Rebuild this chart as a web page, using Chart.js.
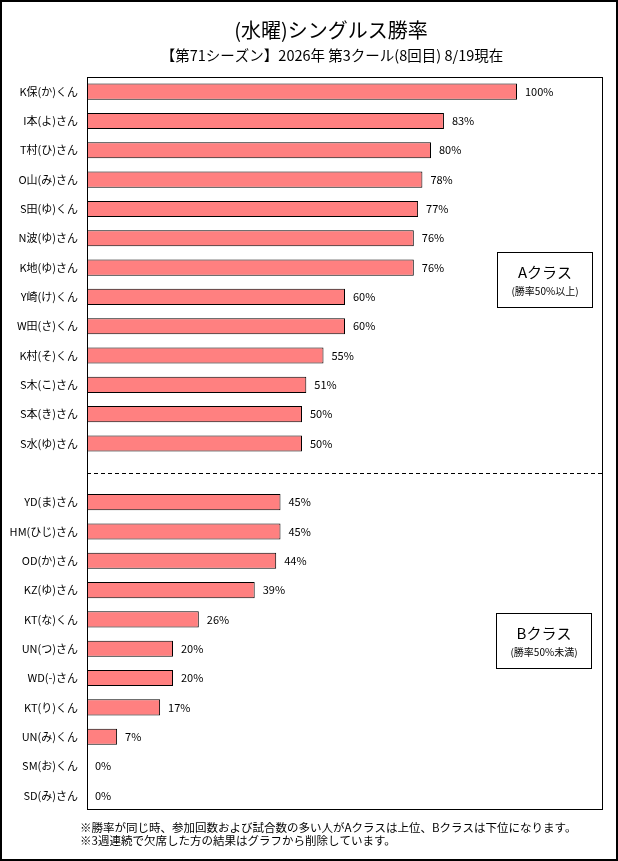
<!DOCTYPE html>
<html>
<head>
<meta charset="utf-8">
<script src="https://cdn.jsdelivr.net/npm/chart.js@4/dist/chart.umd.min.js"></script>
<style>
  body { margin: 0; background: #fff; }
  #wrap { width: 618px; height: 861px; }
</style>
</head>
<body>
<div id="wrap"><canvas id="myChart" width="618" height="861"></canvas></div>
<script>
"use strict";
const ctx = document.getElementById('myChart');

const jpFont = '"Noto Sans CJK JP", "Noto Sans", sans-serif';
const barColor = '#FF8080';

// Aクラス (勝率50%以上)
const aNames = ['K保(か)くん', 'I本(よ)さん', 'T村(ひ)さん', 'O山(み)さん', 'S田(ゆ)くん', 'N波(ゆ)さん', 'K地(ゆ)さん',
  'Y崎(け)くん', 'W田(さ)くん', 'K村(そ)くん', 'S木(こ)さん', 'S本(き)さん', 'S水(ゆ)さん'];
const aRates = [100, 83, 80, 78, 77, 76, 76, 60, 60, 55, 51, 50, 50];

// Bクラス (勝率50%未満)
const bNames = ['YD(ま)さん', 'HM(ひじ)さん', 'OD(か)さん', 'KZ(ゆ)さん', 'KT(な)くん', 'UN(つ)さん', 'WD(-)さん',
  'KT(り)くん', 'UN(み)くん', 'SM(お)くん', 'SD(み)さん'];
const bRates = [45, 45, 44, 39, 26, 20, 20, 17, 7, 0, 0];

const titleText = '(水曜)シングルス勝率';
const subTitleText = '【第71シーズン】2026年 第3クール(8回目) 8/19現在';
const notes = [
  '※勝率が同じ時、参加回数および試合数の多い人がAクラスは上位、Bクラスは下位になります。',
  '※3週連続で欠席した方の結果はグラフから削除しています。'
];

// empty row between A and B classes
const labels = aNames.concat([''], bNames);
const values = aRates.concat([null], bRates);

const decoPlugin = {
  id: 'deco',
  afterDatasetsDraw(chart) {
    const c = chart.ctx;
    const area = chart.chartArea;
    const meta = chart.getDatasetMeta(0);
    c.save();

    // value labels
    c.fillStyle = '#000';
    c.font = '11px ' + jpFont;
    c.textAlign = 'left';
    c.textBaseline = 'middle';
    meta.data.forEach((bar, i) => {
      if (values[i] === null) return;
      c.fillText(values[i] + '%', bar.x + 8, bar.y);
    });

    // plot frame
    c.strokeStyle = '#000';
    c.lineWidth = 1;
    c.strokeRect(area.left + 0.5, area.top + 0.5, area.right - area.left - 1, area.bottom - area.top - 1);

    // dashed divider on the empty row
    const gapY = Math.round(chart.scales.y.getPixelForValue(aNames.length)) + 0.5;
    c.setLineDash([4, 3]);
    c.beginPath();
    c.moveTo(area.left, gapY);
    c.lineTo(area.right, gapY);
    c.stroke();
    c.setLineDash([]);

    // class boxes
    const boxes = [
      { x: 497, y: 252, t1: 'Aクラス', t2: '(勝率50%以上)' },
      { x: 496, y: 613, t1: 'Bクラス', t2: '(勝率50%未満)' }
    ];
    boxes.forEach(b => {
      c.fillStyle = '#fff';
      c.fillRect(b.x, b.y, 96, 56);
      c.strokeRect(b.x + 0.5, b.y + 0.5, 95, 55);
      c.fillStyle = '#000';
      c.textAlign = 'center';
      c.font = '15px ' + jpFont;
      c.fillText(b.t1, b.x + 48, b.y + 20);
      c.font = '10px ' + jpFont;
      c.fillText(b.t2, b.x + 48, b.y + 39);
    });

    // titles
    c.textAlign = 'center';
    c.font = '20px ' + jpFont;
    c.fillText(titleText, 331, 30);
    c.font = '14.5px ' + jpFont;
    c.fillText(subTitleText, 332, 55);

    // foot notes
    c.textAlign = 'left';
    c.font = '11.5px ' + jpFont;
    c.fillText(notes[0], 80, 828);
    c.fillText(notes[1], 80, 841);

    // outer frame
    c.lineWidth = 2;
    c.strokeRect(1, 1, chart.width - 2, chart.height - 2);
    c.restore();
  }
};

let myChart = new Chart(ctx, {
  type: 'bar',
  plugins: [decoPlugin],
  data: {
    labels: labels,
    datasets: [{
      data: values,
      backgroundColor: barColor,
      borderColor: '#000',
      borderWidth: 1,
      barPercentage: 0.55,
      categoryPercentage: 1
    }]
  },
  options: {
    indexAxis: 'y',
    responsive: false,
    animation: false,
    layout: {
      padding: { top: 77, bottom: 51, right: 15, left: 0 }
    },
    plugins: {
      legend: { display: false },
      tooltip: { enabled: false }
    },
    scales: {
      x: {
        display: false,
        min: 0,
        max: 120
      },
      y: {
        grid: { display: false, drawTicks: false },
        border: { display: false },
        afterFit: function (scale) { scale.width = 87; },
        ticks: {
          padding: 9,
          color: '#000',
          font: { size: 11, family: jpFont }
        }
      }
    }
  }
});
</script>
</body>
</html>
